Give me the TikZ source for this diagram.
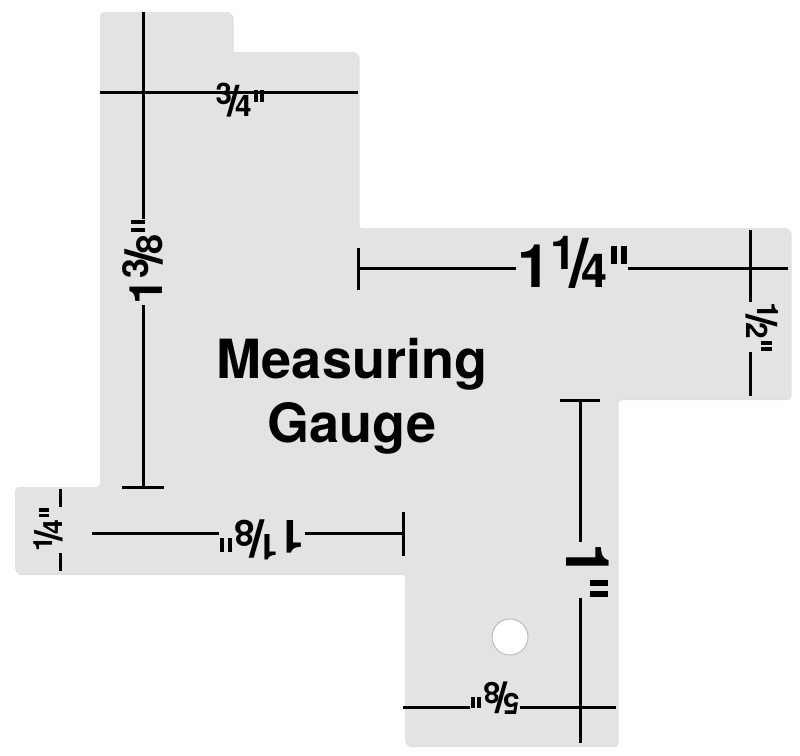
\documentclass[tikz,border=0pt]{standalone}
\usepackage{fontspec}
\setmainfont{TeX Gyre Heros}
\newcommand{\fr}[2]{\raisebox{0.3em}{\fontsize{0.78em}{0.78em}\selectfont #1}\kern-0.12em{\fontsize{1.15em}{1.15em}\selectfont/}\kern-0.12em{\fontsize{0.78em}{0.78em}\selectfont #2}}
\newcommand{\inch}{\kern.06em\raisebox{.38em}{\rule{.1em}{.3em}\kern.07em\rule{.1em}{.3em}}}
\definecolor{plate}{HTML}{E3E3E1}
\tikzset{rule/.style={line width=3pt,black},
lbl/.style={fill=plate,inner sep=1pt,text=black}}
\begin{document}
\begin{tikzpicture}[x=1pt,y=-1pt]
\useasboundingbox (0,0) rectangle (800,755);
\fill[black!12,rounded corners=4pt,xshift=1.5pt,yshift=-2pt] (100,12)--(232,12)--(232,52)--(358,52)--(358,228)--(790,228)--(790,398)--(617,398)--(617,745)--(405,745)--(405,573)--(15,573)--(15,487)--(100,487)--cycle;
\fill[plate,rounded corners=4pt] (100,12)--(232,12)--(232,52)--(358,52)--(358,228)--(790,228)--(790,398)--(617,398)--(617,745)--(405,745)--(405,573)--(15,573)--(15,487)--(100,487)--cycle;
\fill[white,draw=black!30,line width=0.8pt] (510,637) circle (18);
% 1 3/8 vertical
\draw[rule] (143,12)--(143,487);
\draw[rule] (122,487)--(164,487);
\node[lbl,rotate=90,font=\bfseries\fontsize{46}{46}\selectfont] (l138) at (143,262) {1\fr{3}{8}\inch};
% 3/4 horizontal
\draw[rule] (100,92)--(358,92);
\node[inner sep=0pt,font=\bfseries\fontsize{38}{38}\selectfont] (l34) at (240,100) {\fr{3}{4}\inch};
% 1 1/4
\draw[rule] (358,268)--(788,268);
\draw[rule] (358,248)--(358,290);
\node[lbl,font=\bfseries\fontsize{60}{60}\selectfont] (l114) at (572,262) {1\fr{1}{4}\inch};
% 1/2
\draw[rule] (750,230)--(750,396);
\node[lbl,rotate=-90,font=\bfseries\fontsize{38}{38}\selectfont] (l12) at (762,327) {\fr{1}{2}\inch};
% 1"
\draw[rule] (580,400)--(580,743);
\draw[rule] (560,400)--(600,400);
\node[lbl,rotate=-90,font=\bfseries\fontsize{60}{60}\selectfont] (l1) at (588,570) {1\inch};
% 5/8
\draw[rule] (403,707)--(616,707);
\node[lbl,rotate=180,font=\bfseries\fontsize{38}{38}\selectfont] (l58) at (495,698) {\fr{5}{8}\inch};
% 1 1/8
\draw[rule] (92,533)--(403,533);
\draw[rule] (403,512)--(403,556);
\node[lbl,rotate=180,font=\bfseries\fontsize{46}{46}\selectfont] (l118) at (262,540) {1\fr{1}{8}\inch};
% 1/4
\draw[rule] (60,489)--(60,571);
\node[lbl,rotate=90,font=\bfseries\fontsize{34}{34}\selectfont] (l14) at (48,530) {\fr{1}{4}\inch};
\node[font=\bfseries\fontsize{54}{64}\selectfont,align=center,inner sep=0pt] (title) at (352,396) {Measuring\\Gauge};
\end{tikzpicture}
\end{document}
